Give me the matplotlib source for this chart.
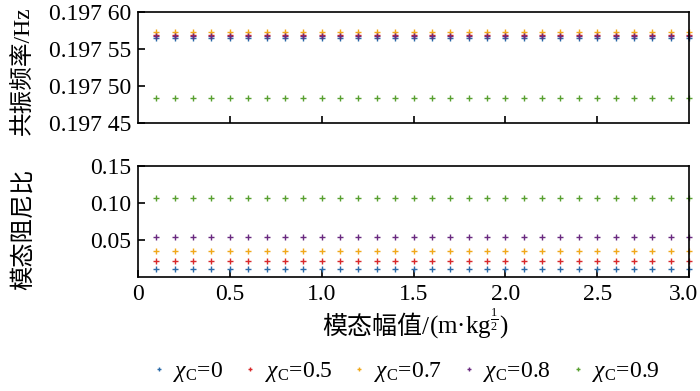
import numpy as np
import matplotlib
matplotlib.use("Agg")
import matplotlib.pyplot as plt
import matplotlib.transforms as mtransforms
from matplotlib.ticker import FuncFormatter
from matplotlib.offsetbox import TextArea, HPacker, AnchoredOffsetbox

plt.rcParams['font.family'] = ['Liberation Serif', 'Noto Sans CJK SC']
plt.rcParams['mathtext.fontset'] = 'custom'
plt.rcParams['mathtext.rm'] = 'Liberation Serif'
plt.rcParams['mathtext.it'] = 'Liberation Serif:italic'
plt.rcParams['font.size'] = 17

# data
amp = [round(0.1 * i, 1) for i in range(1, 31)]
labels = [r'$\chi_\mathrm{C}$=0', r'$\chi_\mathrm{C}$=0.5', r'$\chi_\mathrm{C}$=0.7',
          r'$\chi_\mathrm{C}$=0.8', r'$\chi_\mathrm{C}$=0.9']
colors = ['#2a6aa8', '#d8282a', '#f0a81a', '#6a2a80', '#58a030']
freq = [0.1975645, 0.1975690, 0.1975730, 0.1975675, 0.1974840]
damp = [0.0111, 0.0218, 0.0357, 0.0536, 0.1067]

fig = plt.figure(figsize=(7.0, 3.91), dpi=100)
ax1 = fig.add_axes([138 / 700, 1 - 123 / 391, 551 / 700, 111 / 391])
ax2 = fig.add_axes([138 / 700, 1 - 277 / 391, 551 / 700, 111 / 391])

for f, d, c, lb in zip(freq, damp, colors, labels):
    ax1.plot(amp, [f] * len(amp), '+', color=c, ms=4, mew=1.0, clip_on=False)
    ax2.plot(amp, [d] * len(amp), '+', color=c, ms=4, mew=1.0, clip_on=False, label=lb)

ax1.set_xlim(0, 3.0)
ax1.set_ylim(0.19745, 0.19760)
ax1.set_yticks([0.19745, 0.19750, 0.19755, 0.19760])
ax1.yaxis.set_major_formatter(FuncFormatter(lambda v, p: '%.3f %02d' % (int(v * 1000) / 1000, round(v * 1e5) % 100)))
ax1.set_xticks([0.5, 1.0, 1.5, 2.0, 2.5])
ax1.set_xticklabels([])
ax1.set_ylabel('共振频率/Hz', fontsize=17)
ax1.yaxis.set_label_coords(-0.187, 0.47)

ax2.set_xlim(0, 3.0)
ax2.set_ylim(0, 0.15)
ax2.set_yticks([0.05, 0.10, 0.15])
ax2.yaxis.set_major_formatter(FuncFormatter(lambda v, p: '%.2f' % v))
ax2.set_xticks([0, 0.5, 1.0, 1.5, 2.0, 2.5, 3.0])
ax2.xaxis.set_major_formatter(FuncFormatter(lambda v, p: '0' if v == 0 else '%.1f' % v))
ax2.set_ylabel('模态阻尼比', fontsize=17.5)
ax2.yaxis.set_label_coords(-0.187, 0.43)

for ax in (ax1, ax2):
    ax.tick_params(direction='in', length=5, width=1.2, pad=5)
    for s in ax.spines.values():
        s.set_linewidth(1.2)

# keep the last x tick label inside the figure
last = ax2.get_xticklabels()[-1]
last.set_transform(last.get_transform() + mtransforms.ScaledTranslation(-5 / 100, 0, fig.dpi_scale_trans))

# x label: Chinese part and math part side by side
xl1 = TextArea('模态幅值/', textprops=dict(fontsize=18))
xl2 = TextArea('(m·kg$^{\\frac{1}{2}}$)', textprops=dict(fontsize=18))
box = HPacker(children=[xl1, xl2], align='baseline', pad=0, sep=0)
anc = AnchoredOffsetbox(loc='center', child=box, frameon=False, pad=0,
                        bbox_to_anchor=(415 / 700, 1 - 324 / 391), bbox_transform=fig.transFigure)
fig.add_artist(anc)

fig.legend(loc='center', bbox_to_anchor=(407 / 700, 1 - 372 / 391), ncol=5, frameon=False,
           handlelength=0.4, handletextpad=0.4, columnspacing=0.95, markerscale=0.6)

fig.savefig('out.png', dpi=100)
